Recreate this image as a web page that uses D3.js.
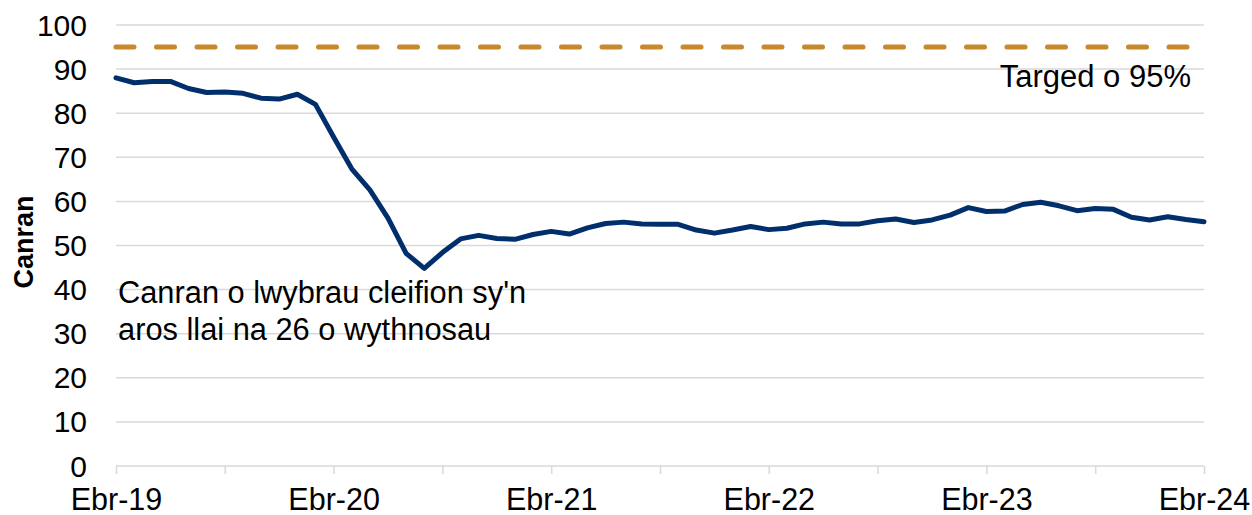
<!DOCTYPE html>
<html>
<head>
<meta charset="utf-8">
<script src="https://cdn.jsdelivr.net/npm/d3@7"></script>
<style>
  body { margin: 0; background: #fff; }
  svg text { font-family: "Liberation Sans", Arial, sans-serif; fill: #000; }
</style>
</head>
<body>
<svg id="chart" width="1252" height="515"></svg>
<script>
    // data (monthly, Ebr-19 .. Ebr-24)
    var monthNames = ["Ebr", "Mai", "Meh", "Gorff", "Awst", "Medi", "Hyd", "Tach", "Rhag", "Ion", "Chwef", "Maw"];
    var startYear = 19;
    var percentValues = [
        88.0, 86.9, 87.2, 87.2, 85.6, 84.7, 84.8, 84.5, 83.4, 83.2, 84.3, 82.0,
        74.6, 67.4, 62.6, 56.2, 48.2, 44.8, 48.4, 51.5, 52.3, 51.6, 51.4, 52.5,
        53.2, 52.6, 54.0, 55.0, 55.3, 54.9, 54.8, 54.8, 53.5, 52.8, 53.5, 54.3,
        53.6, 53.9, 54.9, 55.3, 54.9, 54.9, 55.6, 56.0, 55.2, 55.8, 56.9, 58.6,
        57.7, 57.8, 59.3, 59.8, 59.0, 57.9, 58.4, 58.2, 56.4, 55.8, 56.5, 55.9,
        55.4
    ];
    var targetValue = 95;
    var yTicks = [0, 10, 20, 30, 40, 50, 60, 70, 80, 90, 100];
    var targetLabel = "Targed o 95%";
    var seriesLabel = ["Canran o lwybrau cleifion sy'n", "aros llai na 26 o wythnosau"];
    var yTitle = "Canran";

    // category labels like "Ebr-19", "Mai-19", ...
    var categories = percentValues.map(function(v, i) {
        var yr = startYear + Math.floor((i + 3) / 12);
        return monthNames[i % 12] + "-" + yr;
    });

    var svg = d3.select("#chart");
    // note: "top" is taken by window.top, so use plot* names
    var plotLeft = 116, plotRight = 1204, plotTop = 25, plotBottom = 466;

    var x = d3.scalePoint().domain(categories).range([plotLeft, plotRight]);
    var y = d3.scaleLinear().domain([0, 100]).range([plotBottom, plotTop]);

    // gridlines
    svg.append("g")
        .selectAll("line")
        .data(yTicks.filter(d => d > 0))
        .enter().append("line")
        .attr("x1", plotLeft).attr("x2", plotRight)
        .attr("y1", d => y(d)).attr("y2", d => y(d))
        .attr("stroke", "#d9d9d9")
        .attr("stroke-width", 1.5);

    // y tick labels
    svg.append("g")
        .selectAll("text")
        .data(yTicks)
        .enter().append("text")
        .attr("x", 87)
        .attr("y", d => y(d))
        .attr("dy", "0.35em")
        .attr("text-anchor", "end")
        .style("font-size", "30px")
        .text(d => d);

    // x axis, ticks every 6 months, labels on Ebr only
    var tickCats = categories.filter((c, i) => i % 6 == 0);
    var xAxis = svg.append("g")
        .attr("transform", "translate(0," + plotBottom + ")")
        .call(d3.axisBottom(x)
            .tickValues(tickCats)
            .tickSize(8)
            .tickPadding(14)
            .tickFormat(d => d.indexOf("Ebr") == 0 ? d : ""));
    xAxis.select(".domain")
        .attr("stroke", "#d9d9d9")
        .attr("stroke-width", 1.5)
        .attr("d", "M" + plotLeft + ",0H" + plotRight);
    xAxis.selectAll(".tick line").attr("stroke", "#d9d9d9").attr("stroke-width", 1.5);
    xAxis.selectAll(".tick text")
        .attr("fill", "#000")
        .style("font-size", "30.5px")
        .style("font-family", "'Liberation Sans', Arial, sans-serif");

    // y axis title
    svg.append("text")
        .attr("transform", "translate(33,242) rotate(-90)")
        .attr("text-anchor", "middle")
        .style("font-size", "27px")
        .style("font-weight", "bold")
        .text(yTitle);

    // target line
    svg.append("line")
        .attr("x1", x(categories[0])).attr("x2", x(categories[categories.length - 1]))
        .attr("y1", y(targetValue)).attr("y2", y(targetValue))
        .attr("stroke", "#c8882c")
        .attr("stroke-width", 5)
        .attr("stroke-linecap", "round")
        .attr("stroke-dasharray", "18 22.5");

    // main series
    var line = d3.line()
        .x((d, i) => x(categories[i]))
        .y(d => y(d));

    svg.append("path")
        .datum(percentValues)
        .attr("d", line)
        .attr("fill", "none")
        .attr("stroke", "#002f6c")
        .attr("stroke-width", 5)
        .attr("stroke-linejoin", "round")
        .attr("stroke-linecap", "round");

    // labels
    svg.append("text")
        .attr("x", 1191)
        .attr("y", 87)
        .attr("text-anchor", "end")
        .style("font-size", "31px")
        .text(targetLabel);

    svg.append("g")
        .selectAll("text")
        .data(seriesLabel)
        .enter().append("text")
        .attr("x", 118)
        .attr("y", (d, i) => 303 + i * 37)
        .style("font-size", "30.8px")
        .text(d => d);
</script>
</body>
</html>
